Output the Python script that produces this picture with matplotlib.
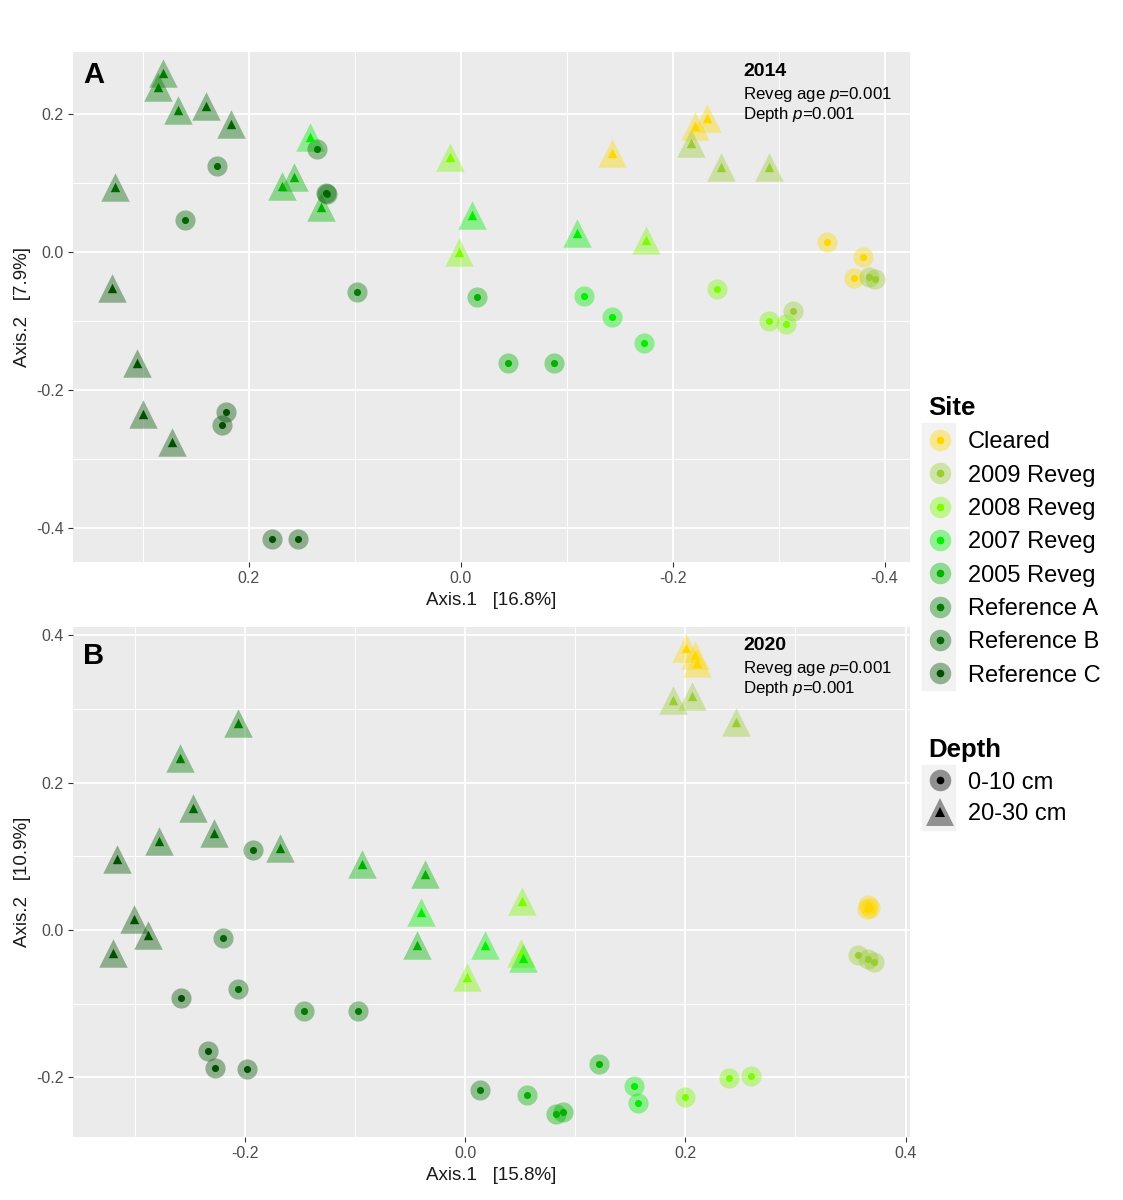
import numpy as np
import pandas as pd
import matplotlib
matplotlib.use("Agg")
import matplotlib.pyplot as plt
from matplotlib.lines import Line2D
from matplotlib.patches import Rectangle
from matplotlib.ticker import FixedLocator

plt.rcParams['font.family'] = ['Liberation Sans', 'DejaVu Sans']
plt.rcParams['mathtext.fontset'] = 'custom'
plt.rcParams['mathtext.rm'] = 'Liberation Sans'
plt.rcParams['mathtext.it'] = 'Liberation Sans:italic'

sites = ['Cleared', '2009 Reveg', '2008 Reveg', '2007 Reveg', '2005 Reveg',
         'Reference A', 'Reference B', 'Reference C']
site_colors = ['#FFD700', '#9ACD32', '#7CFC00', '#00EE00', '#00B200',
               '#007A00', '#006400', '#005000']
depths = ['0-10 cm', '20-30 cm']

# ---- 2014 (panel A) ----  site index, depth (0 = 0-10 cm, 1 = 20-30 cm)
a_site = [0, 0, 0, 0, 0, 0,
          1, 1, 1, 1, 1, 1,
          2, 2, 2, 2, 2, 2,
          3, 3, 3, 3, 3, 3,
          4, 4, 4, 4, 4, 4,
          5, 5, 5, 5, 5, 5,
          6, 6, 6, 6, 6, 6,
          7, 7, 7, 7, 7, 7, 7, 7]
a_depth = [1, 1, 1, 0, 0, 0,
           1, 1, 1, 0, 0, 0,
           1, 1, 1, 0, 0, 0,
           1, 1, 1, 0, 0, 0,
           1, 1, 1, 0, 0, 0,
           1, 1, 1, 0, 0, 0,
           1, 1, 1, 0, 0, 0,
           1, 1, 1, 1, 0, 0, 0, 0]
a_x = [-0.143, -0.221, -0.232, -0.346, -0.380, -0.371,
       -0.217, -0.246, -0.291, -0.385, -0.391, -0.314,
       0.010, 0.002, -0.175, -0.242, -0.291, -0.307,
       -0.110, -0.011, 0.142, -0.116, -0.143, -0.173,
       0.169, 0.157, 0.132, -0.015, -0.045, -0.088,
       0.281, 0.286, 0.267, 0.136, 0.126, 0.098,
       0.240, 0.217, 0.326, 0.230, 0.260, 0.127,
       0.329, 0.306, 0.300, 0.273, 0.222, 0.225, 0.178, 0.154]
a_y = [0.143, 0.183, 0.194, 0.015, -0.007, -0.038,
       0.158, 0.123, 0.123, -0.036, -0.039, -0.085,
       0.138, 0.000, 0.017, -0.054, -0.100, -0.104,
       0.028, 0.054, 0.167, -0.063, -0.094, -0.132,
       0.096, 0.109, 0.065, -0.065, -0.160, -0.161,
       0.259, 0.239, 0.206, 0.149, 0.084, -0.058,
       0.212, 0.186, 0.094, 0.125, 0.046, 0.086,
       -0.052, -0.160, -0.234, -0.275, -0.232, -0.251, -0.416, -0.416]

# ---- 2020 (panel B) ----
b_site = [0, 0, 0, 0, 0, 0,
          1, 1, 1, 1, 1, 1,
          2, 2, 2, 2, 2, 2,
          3, 3, 3, 3, 3,
          4, 4, 4, 4, 4, 4, 4,
          5, 5, 5, 5, 5, 5,
          6, 6, 6, 6, 6, 6,
          7, 7, 7, 7, 7, 7, 7, 7]
b_depth = [1, 1, 1, 0, 0, 0,
           1, 1, 1, 0, 0, 0,
           1, 1, 1, 0, 0, 0,
           1, 1, 1, 0, 0,
           1, 1, 1, 0, 0, 0, 0,
           1, 1, 1, 0, 0, 0,
           1, 1, 1, 0, 0, 0,
           1, 1, 1, 1, 0, 0, 0, 0]
b_x = [0.201, 0.209, 0.211, 0.366, 0.368, 0.365,
       0.189, 0.206, 0.246, 0.357, 0.366, 0.371,
       0.052, 0.051, 0.002, 0.240, 0.260, 0.200,
       0.018, 0.053, -0.040, 0.153, 0.157,
       -0.094, -0.036, -0.044, 0.122, 0.056, 0.083, 0.089,
       -0.206, -0.259, -0.168, -0.146, -0.097, 0.014,
       -0.247, -0.228, -0.278, -0.193, -0.220, -0.206,
       -0.316, -0.301, -0.288, -0.320, -0.258, -0.233, -0.227, -0.198]
b_y = [0.383, 0.373, 0.362, 0.034, 0.030, 0.028,
       0.312, 0.318, 0.282, -0.034, -0.040, -0.043,
       0.039, -0.031, -0.064, -0.201, -0.198, -0.227,
       -0.020, -0.038, 0.024, -0.212, -0.235,
       0.090, 0.076, -0.020, -0.182, -0.224, -0.250, -0.247,
       0.281, 0.233, 0.111, -0.110, -0.110, -0.217,
       0.165, 0.132, 0.121, 0.109, -0.011, -0.080,
       0.096, 0.015, -0.007, -0.032, -0.092, -0.164, -0.187, -0.189]

panel_a = pd.DataFrame({'site': a_site, 'depth': a_depth, 'x': a_x, 'y': a_y})
panel_b = pd.DataFrame({'site': b_site, 'depth': b_depth, 'x': b_x, 'y': b_y})

W, H = 1123, 1200
fig = plt.figure(figsize=(W / 100, H / 100), dpi=100)


def fx(px):
    return px / W


def fy(py):
    return 1 - py / H


marker_of = ['o', '^']
halo_s = [210, 420]
inner_s = [26, 46]


def draw_panel(ax, df, xlim, ylim, xticks, yticks, xminor, yminor, xlab, ylab):
    ax.set_facecolor('#EBEBEB')
    for sp in ax.spines.values():
        sp.set_visible(False)
    for (s, d), g in df.groupby(['site', 'depth']):
        c = site_colors[s]
        ax.scatter(g['x'], g['y'], s=halo_s[d], marker=marker_of[d], color=c,
                   alpha=0.4, linewidths=0, zorder=3)
        ax.scatter(g['x'], g['y'], s=inner_s[d], marker=marker_of[d], color=c,
                   linewidths=0, zorder=4)
    ax.xaxis.set_major_locator(FixedLocator(xticks))
    ax.yaxis.set_major_locator(FixedLocator(yticks))
    ax.xaxis.set_major_formatter(lambda v, p: '%.1f' % v)
    ax.yaxis.set_major_formatter(lambda v, p: '%.1f' % v)
    ax.xaxis.set_minor_locator(FixedLocator(xminor))
    ax.yaxis.set_minor_locator(FixedLocator(yminor))
    ax.set_xlim(*xlim)
    ax.set_ylim(*ylim)
    ax.grid(True, which='major', color='white', linewidth=1.3, zorder=0)
    ax.grid(True, which='minor', color='white', linewidth=0.7, zorder=0)
    ax.set_axisbelow(True)
    ax.tick_params(which='major', length=3.5, width=0.8, color='#333333',
                   labelcolor='#4D4D4D', labelsize=11.5, pad=3)
    ax.tick_params(which='minor', length=0)
    ax.set_xlabel(xlab, fontsize=13.5, color='#1A1A1A', labelpad=4)
    ax.set_ylabel(ylab, fontsize=13.5, color='#1A1A1A', labelpad=4)


ax_a = fig.add_axes([fx(73), fy(562), fx(910) - fx(73), fy(52) - fy(562)])
draw_panel(ax_a, panel_a, (0.366, -0.424), (-0.449, 0.29),
           [0.2, 0.0, -0.2, -0.4], [-0.4, -0.2, 0.0, 0.2],
           [0.3, 0.1, -0.1, -0.3], [-0.3, -0.1, 0.1],
           'Axis.1   [16.8%]', 'Axis.2   [7.9%]')

ax_b = fig.add_axes([fx(73), fy(1137), fx(910) - fx(73), fy(627) - fy(1137)])
draw_panel(ax_b, panel_b, (-0.356, 0.404), (-0.281, 0.411),
           [-0.2, 0.0, 0.2, 0.4], [-0.2, 0.0, 0.2, 0.4],
           [-0.3, -0.1, 0.1, 0.3], [-0.1, 0.1, 0.3],
           'Axis.1   [15.8%]', 'Axis.2   [10.9%]')

# panel letters and stats
fig.text(fx(83), fy(75), 'A', fontsize=21, fontweight='bold', va='center')
fig.text(fx(83), fy(656), 'B', fontsize=21, fontweight='bold', va='center')
for year, top in [('2014', 71), ('2020', 646)]:
    fig.text(fx(743), fy(top), year, fontsize=14, fontweight='bold', va='center')
    fig.text(fx(743), fy(top + 23), 'Reveg age $p$=0.001', fontsize=12.2, va='center')
    fig.text(fx(743), fy(top + 43), 'Depth $p$=0.001', fontsize=12.2, va='center')

# legend key backgrounds
fig.patches.append(Rectangle((fx(922), fy(690)), fx(955) - fx(922), fy(423) - fy(690),
                             transform=fig.transFigure, color='#F2F2F2', zorder=0))
fig.patches.append(Rectangle((fx(922), fy(830)), fx(955) - fx(922), fy(765) - fy(830),
                             transform=fig.transFigure, color='#F2F2F2', zorder=0))

site_handles = []
for c in site_colors:
    site_handles.append((Line2D([], [], ls='', marker='o', ms=15.5, mew=0, color=c, alpha=0.4),
                         Line2D([], [], ls='', marker='o', ms=5.5, mew=0, color=c)))
depth_handles = []
for d in range(2):
    depth_handles.append((Line2D([], [], ls='', marker=marker_of[d], ms=[15.5, 20][d], mew=0,
                                 color='black', alpha=0.4),
                          Line2D([], [], ls='', marker=marker_of[d], ms=[5.5, 6.5][d], mew=0,
                                 color='black')))

leg1 = fig.legend(site_handles, sites, loc='upper left', bbox_to_anchor=(fx(928), fy(396)),
                  frameon=False, fontsize=17, title='Site', alignment='left',
                  title_fontproperties={'weight': 'bold', 'size': 18.5},
                  handlelength=1.0, handletextpad=0.7, labelspacing=0.48,
                  borderpad=0, borderaxespad=0)
leg2 = fig.legend(depth_handles, depths, loc='upper left', bbox_to_anchor=(fx(928), fy(738)),
                  frameon=False, fontsize=17, title='Depth', alignment='left',
                  title_fontproperties={'weight': 'bold', 'size': 18.5},
                  handlelength=1.0, handletextpad=0.7, labelspacing=0.41,
                  borderpad=0, borderaxespad=0)

fig.savefig('out.png', dpi=100, facecolor='white')
